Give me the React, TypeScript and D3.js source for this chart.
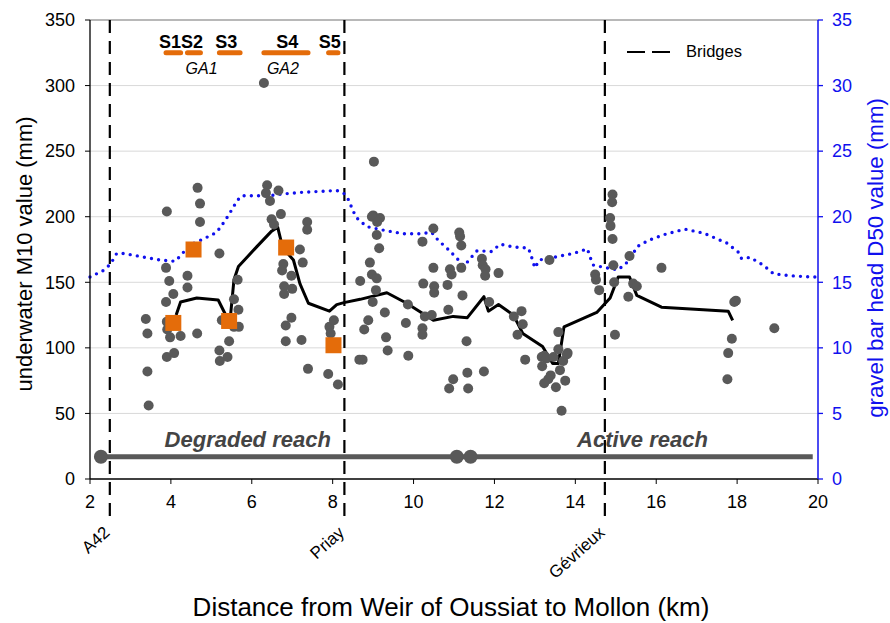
import React from "react";
import * as d3 from "d3";

// ---------- DATA ----------
const xTicks = [2, 4, 6, 8, 10, 12, 14, 16, 18, 20];
const yTicksLeft = [0, 50, 100, 150, 200, 250, 300, 350];
const yTicksRight = [0, 5, 10, 15, 20, 25, 30, 35];

// underwater M10 samples (km, mm)
const m10Points: [number, number][] = [
  [3.38, 122], [3.42, 111], [3.42, 82], [3.45, 56], [3.88, 161], [3.9, 204], [3.96, 151], [4.06, 141],
  [3.88, 135], [3.91, 114], [3.9, 120], [3.98, 108], [4.24, 109], [4.65, 111], [3.9, 93], [4.08, 96],
  [4.41, 155], [4.41, 146], [4.66, 222], [4.72, 210], [4.72, 196], [5.2, 172], [5.26, 121], [5.56, 137],
  [5.67, 129], [5.56, 116], [5.68, 116], [5.65, 152], [5.44, 105], [5.2, 98], [5.4, 93], [5.21, 90],
  [6.3, 302], [6.38, 224], [6.35, 218], [6.45, 212], [6.66, 220], [6.72, 202], [6.49, 198], [6.55, 194],
  [7.37, 196], [7.37, 190], [7.19, 175], [7.26, 165], [6.78, 164], [6.75, 159], [6.98, 155], [6.8, 147],
  [7.0, 145], [6.8, 141], [6.98, 123], [6.84, 117], [6.84, 105], [7.23, 106], [7.92, 116], [8.03, 121],
  [7.95, 111], [7.39, 84], [7.89, 80], [8.13, 72],
  [8.68, 151], [8.66, 91], [9.02, 242], [9.0, 201], [9.17, 199], [8.97, 200], [9.1, 196], [9.09, 186],
  [9.15, 176], [8.92, 165], [8.97, 156], [9.09, 153], [9.07, 144], [8.99, 135], [9.29, 127], [8.88, 121],
  [8.78, 114], [9.32, 108], [9.36, 98], [8.74, 91], [9.87, 94], [9.81, 119], [9.86, 133], [10.22, 115],
  [10.22, 110], [10.28, 124], [10.45, 125], [10.22, 181], [10.49, 191], [10.49, 161], [10.51, 147],
  [10.51, 142], [10.84, 148], [10.24, 149], [10.86, 129], [11.21, 140], [11.31, 105], [11.13, 188],
  [11.15, 185], [11.18, 178], [10.9, 160], [10.94, 156], [11.18, 161], [11.69, 168], [11.71, 163],
  [11.78, 160], [11.77, 155], [12.1, 157], [11.87, 135], [12.48, 124], [12.67, 128], [12.7, 118],
  [12.57, 110], [12.76, 91], [13.36, 167], [13.58, 112], [11.33, 81], [11.74, 82], [10.98, 76],
  [10.88, 69], [11.35, 69],
  [13.17, 93], [13.23, 94], [13.29, 92], [13.46, 93], [13.58, 99], [13.81, 96], [13.7, 90], [13.18, 86],
  [13.39, 79], [13.33, 76], [13.23, 73], [13.52, 70], [13.62, 83], [13.75, 75], [13.66, 52], [13.79, 95],
  [14.49, 156], [14.51, 152], [14.59, 144], [14.92, 217], [14.91, 211], [14.86, 199], [14.87, 193],
  [14.92, 183], [14.94, 163], [14.96, 150], [14.98, 110], [15.34, 170], [16.13, 161], [15.43, 149],
  [15.52, 147], [15.31, 139], [17.97, 136], [17.93, 135], [17.87, 107], [17.78, 96], [17.76, 76],
  [18.92, 115],
];

// M10 smoothed trend (km, mm)
const m10Trend: [number, number][] = [
  [4.13, 125], [4.24, 135], [4.64, 138], [5.17, 136.5], [5.34, 126], [5.46, 120], [5.56, 152], [5.67, 162],
  [6.12, 177], [6.49, 189], [6.64, 192], [6.72, 182], [6.86, 173], [7.03, 167], [7.19, 149], [7.4, 134],
  [7.92, 128], [8.1, 133], [8.28, 134.5], [8.68, 137], [9.34, 142], [9.83, 134], [10.49, 121],
  [10.98, 124], [11.33, 123], [11.74, 139], [11.85, 128], [12.1, 133], [12.47, 125], [12.7, 111],
  [13.19, 101], [13.44, 88], [13.58, 88], [13.72, 116], [14.53, 127], [14.86, 138], [14.96, 146],
  [15.06, 154], [15.34, 154], [15.52, 140], [16.13, 131], [17.78, 128], [17.89, 121],
];

// gravel bar head D50 (km, mm) - right axis
const d50Line: [number, number][] = [
  [2.0, 15.4], [2.33, 15.9], [2.51, 16.4], [2.66, 17.2], [2.82, 17.2], [3.19, 17.0], [3.73, 16.7],
  [4.1, 16.6], [4.23, 17.0], [4.47, 17.85], [4.8, 18.3], [5.13, 18.8], [5.34, 19.7], [5.53, 20.65],
  [5.63, 21.2], [5.75, 21.6], [6.45, 21.6], [6.66, 21.7], [7.19, 21.85], [8.1, 22.0], [8.27, 21.8],
  [8.39, 21.3], [8.51, 20.4], [8.6, 19.9], [8.84, 19.25], [9.21, 19.0], [9.75, 18.7], [10.12, 18.7],
  [10.45, 18.8], [10.61, 18.2], [10.86, 17.5], [11.11, 16.7], [11.25, 16.25], [11.44, 16.95],
  [11.57, 17.4], [11.93, 17.35], [12.14, 17.9], [12.47, 17.7], [12.84, 17.6], [12.9, 17.1], [13.0, 16.1],
  [13.11, 16.7], [13.46, 16.9], [13.95, 17.2], [14.3, 17.55], [14.36, 16.95], [14.45, 16.3],
  [14.78, 16.1], [15.06, 15.95], [15.35, 16.7], [15.52, 17.7], [15.81, 18.2], [16.26, 18.7],
  [16.71, 19.05], [17.17, 18.75], [17.74, 18.0], [18.03, 17.3], [18.11, 16.8], [18.32, 16.9],
  [18.65, 16.3], [18.9, 15.65], [19.31, 15.5], [19.85, 15.4], [20.0, 15.4],
];

// GA sites (orange squares)
const gaSquares: [number, number][] = [
  [4.06, 119], [4.56, 175], [5.44, 120.5], [6.85, 176.5], [8.02, 102],
];

// sampling sections S1..S5 (km start, km end)
const sectionNames = ["S1", "S2", "S3", "S4", "S5"];
const sectionStart = [3.83, 4.36, 5.15, 6.25, 7.85];
const sectionEnd = [4.29, 4.78, 5.76, 7.44, 8.18];
const sectionLabelX = [3.98, 4.52, 5.37, 6.88, 7.93];
const sectionY = 325;
const gaLabels = ["GA1", "GA2"];
const gaLabelX = [4.76, 6.77];

// bridges
const bridgeNames = ["A42", "Priay", "Gévrieux"];
const bridgeKm = [2.49, 8.29, 14.73];

// reaches
const reachY = 17;
const reachStart = 2.27;
const reachEnd = 19.87;
const reachDots = [2.27, 11.07, 11.41];
const reachNames = ["Degraded reach", "Active reach"];
const reachLabelX = [5.9, 15.66];

// ---------- LAYOUT ----------
const W = 890, H = 623;
const L = 90, R = 818, T = 20, B = 479;
const FONT = "'Liberation Sans', Arial, Helvetica, sans-serif";
const ORANGE = "#e46c0a";
const GRAY = "#595959";
const BLUE = "#1010ee";

export default function App() {
  const x = d3.scaleLinear().domain([2, 20]).range([L, R]);
  const y = d3.scaleLinear().domain([0, 350]).range([B, T]);
  const y2 = d3.scaleLinear().domain([0, 35]).range([B, T]);

  const trendPath = d3.line<[number, number]>().x(d => x(d[0])).y(d => y(d[1]))(m10Trend) || "";
  const d50Path = d3.line<[number, number]>().x(d => x(d[0])).y(d => y2(d[1]))(d50Line) || "";

  return (
    <svg width={W} height={H} style={{ position: "absolute", left: 0, top: 0, background: "#fff" }} fontFamily={FONT}>
      {/* gridlines */}
      {yTicksLeft.filter(v => v > 0 && v < 350).map(v => (
        <line key={"g" + v} x1={L} x2={R} y1={y(v)} y2={y(v)} stroke="#d9d9d9" strokeWidth={1} />
      ))}
      <line x1={L} x2={R} y1={T} y2={T} stroke="#a0a0a0" strokeWidth={1.5} />

      {/* bridges */}
      {bridgeKm.map((b, i) => (
        <line key={"b" + i} x1={x(b)} x2={x(b)} y1={T} y2={522} stroke="#000" strokeWidth={2.2} strokeDasharray="13 8" />
      ))}

      {/* reach line */}
      <line x1={x(reachStart)} x2={x(reachEnd)} y1={y(reachY)} y2={y(reachY)} stroke={GRAY} strokeWidth={5} />
      {reachDots.map((d, i) => (
        <circle key={"rd" + i} cx={x(d)} cy={y(reachY)} r={7} fill={GRAY} />
      ))}
      {reachNames.map((n, i) => (
        <text key={"rn" + i} x={x(reachLabelX[i])} y={447} textAnchor="middle" fontSize={22} fontWeight="bold" fontStyle="italic" fill="#444">{n}</text>
      ))}

      {/* D50 dotted line */}
      <path d={d50Path} fill="none" stroke={BLUE} strokeWidth={3.4} strokeLinecap="round" strokeDasharray="0 7.2" />

      {/* trend line */}
      <path d={trendPath} fill="none" stroke="#000" strokeWidth={3} strokeLinejoin="round" />

      {/* points */}
      {m10Points.map((p, i) => (
        <circle key={"p" + i} cx={x(p[0])} cy={y(p[1])} r={5} fill={GRAY} />
      ))}

      {/* orange squares */}
      {gaSquares.map((p, i) => (
        <rect key={"s" + i} x={x(p[0]) - 8} y={y(p[1]) - 8} width={16} height={16} fill={ORANGE} />
      ))}

      {/* sections */}
      {sectionNames.map((n, i) => (
        <g key={"sec" + i}>
          <line x1={x(sectionStart[i]) + 2} x2={x(sectionEnd[i]) - 2} y1={y(sectionY)} y2={y(sectionY)} stroke={ORANGE} strokeWidth={5} strokeLinecap="round" />
          <text x={x(sectionLabelX[i])} y={48} textAnchor="middle" fontSize={18} fontWeight="bold" fill="#000">{n}</text>
        </g>
      ))}
      {gaLabels.map((n, i) => (
        <text key={"ga" + i} x={x(gaLabelX[i])} y={74} textAnchor="middle" fontSize={16} fontStyle="italic" fill="#000">{n}</text>
      ))}

      {/* legend */}
      <line x1={627} x2={670} y1={52} y2={52} stroke="#000" strokeWidth={2.2} strokeDasharray="18 7" />
      <text x={686} y={57} fontSize={16.5} fill="#000">Bridges</text>

      {/* axes */}
      <line x1={L} x2={L} y1={T} y2={B} stroke="#000" strokeWidth={1.3} />
      <line x1={L} x2={R} y1={B} y2={B} stroke="#000" strokeWidth={1.3} />
      <line x1={R} x2={R} y1={T} y2={B} stroke={BLUE} strokeWidth={1.5} />

      {yTicksLeft.map(v => (
        <g key={"yl" + v}>
          <line x1={L - 5} x2={L} y1={y(v)} y2={y(v)} stroke="#000" />
          <text x={75} y={y(v)} dy="0.35em" textAnchor="end" fontSize={18} fill="#000">{v}</text>
        </g>
      ))}
      {yTicksRight.map(v => (
        <g key={"yr" + v}>
          <line x1={R} x2={R + 5} y1={y2(v)} y2={y2(v)} stroke={BLUE} strokeWidth={1.3} />
          <text x={832} y={y2(v)} dy="0.35em" textAnchor="start" fontSize={18} fill={BLUE}>{v}</text>
        </g>
      ))}
      {xTicks.map(v => (
        <g key={"xt" + v}>
          <line x1={x(v)} x2={x(v)} y1={B} y2={B + 5} stroke="#000" />
          <text x={x(v)} y={508} textAnchor="middle" fontSize={18} fill="#000">{v}</text>
        </g>
      ))}

      {/* bridge labels */}
      {bridgeNames.map((n, i) => (
        <text key={"bn" + i} transform={`translate(${x(bridgeKm[i]) + 1},${534}) rotate(-42)`} textAnchor="end" fontSize={17} fill="#000">{n}</text>
      ))}

      {/* axis titles */}
      <text transform={`translate(32,254) rotate(-90)`} textAnchor="middle" fontSize={22} fill="#000">underwater M10 value (mm)</text>
      <text transform={`translate(883,258) rotate(-90)`} textAnchor="middle" fontSize={22.3} fill={BLUE}>gravel bar head D50 value (mm)</text>
      <text x={451} y={616} textAnchor="middle" fontSize={26} fill="#000">Distance from Weir of Oussiat to Mollon (km)</text>
    </svg>
  );
}
